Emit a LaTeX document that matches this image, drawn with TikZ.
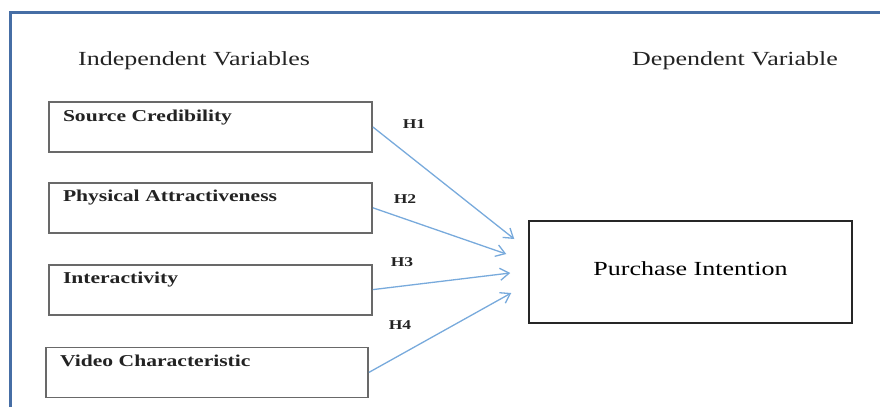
\documentclass[tikz,border=0pt]{standalone}
\usepackage{fontspec}
\setmainfont{Liberation Serif}[FakeStretch=1.3]
\usepackage{tikz}
\usetikzlibrary{arrows.meta,calc,positioning}
\tikzset{
  varbox/.style = {draw=my_gray, line width=1.8pt, rectangle, inner sep=0pt, inner xsep=14pt,
  text width=295pt, minimum height=50pt, text height=19pt, text depth=31pt, align=left,
  font=\fontsize{16.6}{20}\selectfont\bfseries, text=my_text},
  headline/.style = {anchor=base west, inner sep=0pt, font=\fontsize{20}{24}\selectfont, text=my_text},
  hyplabel/.style = {inner sep=0pt, font=\fontsize{13.5}{15}\selectfont\bfseries, text=my_text}
}
\definecolor{my_frame}{RGB}{70, 110, 165}
\definecolor{my_gray}{RGB}{105, 105, 105}
\definecolor{my_text}{RGB}{35, 35, 35}
\definecolor{my_arrow}{RGB}{120, 170, 220}

\begin{document}
\begin{tikzpicture}[x=1pt, y=-1pt,
        	link/.style={draw=my_arrow, line width=1.3pt, -{Straight Barb[length=9pt, width=12pt]}},
        	target/.style={draw=black!85, line width=1.5pt, minimum width=323pt, minimum height=102pt,
        	inner sep=0pt, font=\fontsize{20}{24}\selectfont, text=black}]
            \useasboundingbox (0,0) rectangle (880,407);
            % frame
            \draw [my_frame, line width=2.7pt] (10.5,407) -- (10.5,12.5) -- (880,12.5);
            % headings
            \node [headline] (ivhead) at (78,65) {Independent Variables};
            \node [headline] (dvhead) at (632,65) {Dependent Variable};
            % independent variables
            \node [varbox] (sc) at (210.5,127) {Source Credibility};
            \node [varbox, below=29pt of sc] (pa) {Physical Attractiveness};
            \node [varbox, below=30pt of pa] (ia) {Interactivity};
            \node [varbox, below=31pt of ia, xshift=-3.5pt, text width=294pt] (vc) {Video Characteristic};
            % dependent variable
            \node [target] (pi) at (690.5,272) {\raisebox{6pt}{Purchase Intention}};
            % arrow ends
            \coordinate (t1) at ($(pi.west)+(-14,-33)$);
            \coordinate (t2) at ($(pi.west)+(-22,-18)$);
            \coordinate (t3) at ($(pi.west)+(-18,1)$);
            \coordinate (t4) at ($(pi.west)+(-17,21)$);
            \draw [link] (sc.east) -- (t1);
            \draw [link] (pa.east) -- (t2);
            \draw [link] (ia.east) -- (t3);
            \draw [link] (vc.east) -- (t4);
            % hypotheses
            \node [hyplabel] (h1) at (414,124) {H1};
            \node [hyplabel] (h2) at (405,199) {H2};
            \node [hyplabel] (h3) at (402,262) {H3};
            \node [hyplabel] (h4) at (400,325) {H4};
        \end{tikzpicture}
\end{document}
